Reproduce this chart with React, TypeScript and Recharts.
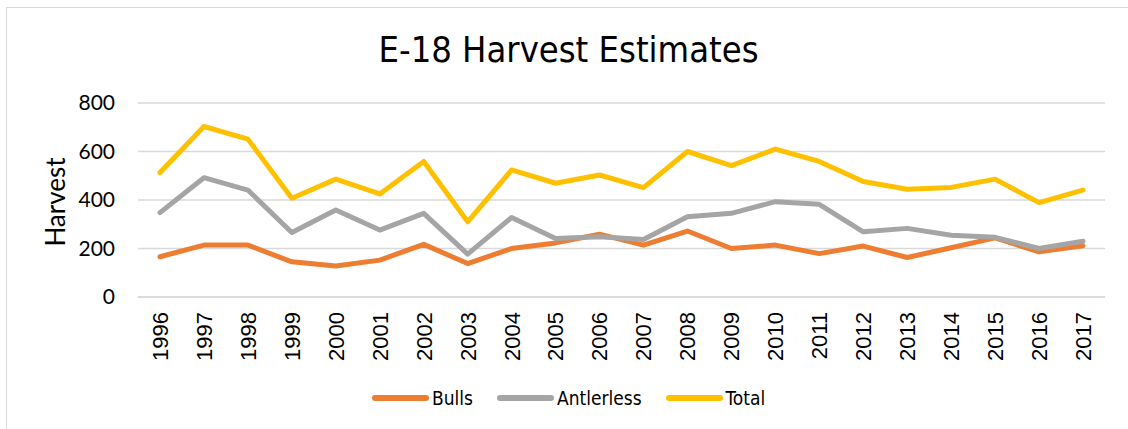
import React from 'react';
import { LineChart, Line, XAxis, YAxis, CartesianGrid, Legend } from 'recharts';

// Harvest estimates for unit E-18
const years: string[] = [
  '1996', '1997', '1998', '1999', '2000', '2001', '2002', '2003', '2004', '2005', '2006',
  '2007', '2008', '2009', '2010', '2011', '2012', '2013', '2014', '2015', '2016', '2017',
];
const bulls: number[] = [
  166, 214, 214, 145, 128, 152, 217, 138, 200, 223, 259,
  214, 272, 200, 214, 179, 210, 163, 203, 244, 186, 211,
];
const antlerless: number[] = [
  348, 492, 441, 266, 359, 276, 345, 177, 328, 241, 248,
  237, 331, 345, 393, 382, 269, 283, 255, 246, 200, 230,
];
const total: number[] = [
  513, 703, 651, 407, 486, 425, 559, 310, 524, 469, 503,
  451, 600, 542, 610, 559, 476, 444, 452, 486, 389, 441,
];
const yTicks: number[] = [0, 200, 400, 600, 800];

const series = [
  { key: 'bulls', name: 'Bulls', color: '#ED7D31' },
  { key: 'antlerless', name: 'Antlerless', color: '#A5A5A5' },
  { key: 'total', name: 'Total', color: '#FFC000' },
];

const rows = years.map((year, i) => ({
  year,
  bulls: bulls[i],
  antlerless: antlerless[i],
  total: total[i],
}));

const CONDENSED = '"DejaVu Sans Condensed", "DejaVu Sans", sans-serif';

const YearTick = (props: any) => {
  const { x, y, payload } = props;
  return (
    <text
      x={x}
      y={y}
      transform={`rotate(-90, ${x}, ${y})`}
      textAnchor="end"
      dy="0.36em"
      fontFamily='"Liberation Sans", Arial, sans-serif'
      fontSize={22}
      fill="#000"
    >
      {payload.value}
    </text>
  );
};

const AxisTitle = (props: any) => {
  const vb = props.viewBox || { x: 0, y: 103, width: 138, height: 194 };
  const cx = vb.x + 56;
  const cy = vb.y + vb.height / 2 + 2;
  return (
    <text
      x={cx}
      y={cy}
      transform={`rotate(-90, ${cx}, ${cy})`}
      textAnchor="middle"
      dy="0.36em"
      fontFamily="Lato, sans-serif"
      fontSize={26}
      fill="#000"
    >
      Harvest
    </text>
  );
};

const LegendContent = () => (
  <div style={{ display: 'flex', alignItems: 'center', paddingLeft: 372, height: 24 }}>
    {series.map((s, i) => (
      <div key={s.key} style={{ display: 'flex', alignItems: 'center', marginLeft: i === 0 ? 0 : 24 }}>
        <svg width={57} height={12} style={{ display: 'block' }}>
          <line x1={3} y1={6} x2={54} y2={6} stroke={s.color} strokeWidth={6} strokeLinecap="round" />
        </svg>
        <span style={{ fontFamily: CONDENSED, fontSize: 19, color: '#000', marginLeft: 3, lineHeight: '24px' }}>
          {s.name}
        </span>
      </div>
    ))}
  </div>
);

export default function App() {
  return (
    <div
      style={{
        position: 'absolute',
        left: 0,
        top: 0,
        width: 1128,
        height: 429,
        overflow: 'hidden',
        background: '#fff',
      }}
    >
      <div
        style={{
          position: 'absolute',
          left: 6,
          top: 7,
          width: 1300,
          height: 600,
          border: '1px solid #D9D9D9',
          boxSizing: 'border-box',
        }}
      />
      <svg width={1128} height={80} style={{ position: 'absolute', left: 0, top: 0 }}>
        <text x={568.5} y={62} textAnchor="middle" fontFamily={CONDENSED} fontSize={36} fill="#000">
          E-18 Harvest Estimates
        </text>
      </svg>
      <div style={{ position: 'absolute', left: 0, top: 0 }}>
        <LineChart
          width={1128}
          height={429}
          data={rows}
          margin={{ top: 103, right: 23, bottom: 52, left: 0 }}
        >
          <CartesianGrid horizontal vertical={false} stroke="#D9D9D9" strokeWidth={1.5} />
          <XAxis
            dataKey="year"
            interval={0}
            height={80}
            padding={{ left: 22, right: 22 }}
            axisLine={{ stroke: '#D9D9D9', strokeWidth: 1.5 }}
            tickLine={false}
            tickSize={0}
            tickMargin={15}
            tick={<YearTick />}
          />
          <YAxis
            width={138}
            domain={[0, 800]}
            ticks={yTicks}
            interval={0}
            axisLine={false}
            tickLine={false}
            tickSize={0}
            tickMargin={23}
            tick={{ fontFamily: 'Lato, sans-serif', fontSize: 21, fill: '#000' }}
            label={<AxisTitle />}
          />
          <Legend
            verticalAlign="middle"
            layout="horizontal"
            align="center"
            content={<LegendContent />}
            wrapperStyle={{ top: 386, left: 0, width: 1128, height: 24 }}
          />
          {series.map((s) => (
            <Line
              key={s.key}
              type="linear"
              dataKey={s.key}
              name={s.name}
              stroke={s.color}
              strokeWidth={5}
              strokeLinejoin="round"
              strokeLinecap="round"
              dot={false}
              activeDot={false}
              isAnimationActive={false}
            />
          ))}
        </LineChart>
      </div>
    </div>
  );
}
